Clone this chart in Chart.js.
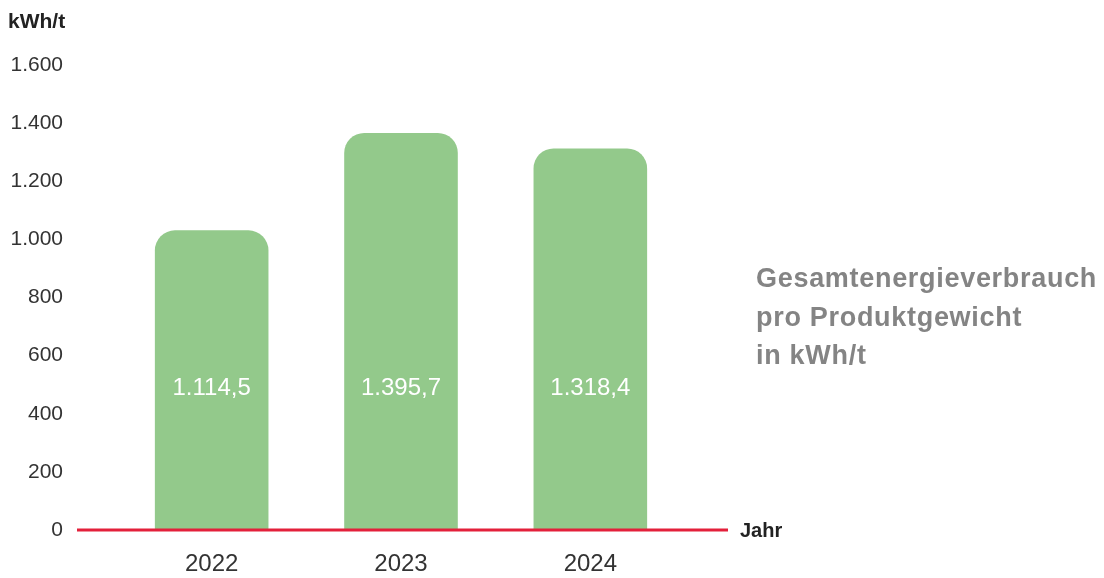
<!DOCTYPE html>
<html>
<head>
<meta charset="utf-8">
<script src="https://cdn.jsdelivr.net/npm/chart.js@4"></script>
<style>
  html, body { margin: 0; padding: 0; background: #fff; overflow: hidden; }
  #wrap { width: 1104px; height: 578px; position: relative; }
</style>
</head>
<body>
<div id="wrap"><canvas id="barChart"></canvas></div>
<script>
// Data
const years = ['2022', '2023', '2024'];
const barValues = [1031, 1366, 1313];          // bar heights as drawn
const valueLabels = ['1.114,5', '1.395,7', '1.318,4'];
const yTicks = [0, 200, 400, 600, 800, 1000, 1200, 1400, 1600];
const noteLines = ['Gesamtenergieverbrauch', 'pro Produktgewicht', 'in kWh/t'];

const FONT = '"Liberation Sans", Arial, sans-serif';

// extra drawing: zero line, axis titles, bar labels, side note
const extras = {
  id: 'extras',
  afterDatasetsDraw(chart) {
    const { ctx, scales } = chart;
    const y0 = scales.y.getPixelForValue(0);
    ctx.save();

    // red base line
    ctx.strokeStyle = '#e3203b';
    ctx.lineWidth = 3;
    ctx.beginPath();
    ctx.moveTo(77, y0);
    ctx.lineTo(728, y0);
    ctx.stroke();

    // axis titles
    ctx.fillStyle = '#222';
    ctx.font = 'bold 21px ' + FONT;
    ctx.textAlign = 'left';
    ctx.textBaseline = 'middle';
    ctx.fillText('kWh/t', 8, 22);
    ctx.font = 'bold 20px ' + FONT;
    ctx.fillText('Jahr', 740, y0 + 1);

    // value labels inside bars
    ctx.fillStyle = '#fff';
    ctx.font = '24px ' + FONT;
    ctx.textAlign = 'center';
    chart.getDatasetMeta(0).data.forEach((bar, i) => {
      ctx.fillText(valueLabels[i], bar.x, y0 - 142);
    });

    // side note
    ctx.fillStyle = '#848484';
    ctx.font = 'bold 27px ' + FONT;
    ctx.textAlign = 'left';
    ctx.textBaseline = 'alphabetic';
    ctx.letterSpacing = '0.7px';
    noteLines.forEach((line, i) => {
      ctx.fillText(line, 756, 287 + i * 38.5);
    });
    ctx.restore();
  }
};

const ctx = document.getElementById('barChart').getContext('2d');
new Chart(ctx, {
  type: 'bar',
  data: {
    labels: years,
    datasets: [{
      data: barValues,
      backgroundColor: '#93c98b',
      borderRadius: { topLeft: 20, topRight: 20 },
      borderSkipped: 'bottom',
      barPercentage: 0.6,
      categoryPercentage: 1
    }]
  },
  options: {
    responsive: true,
    maintainAspectRatio: false,
    animation: false,
    devicePixelRatio: 1,
    layout: { padding: { top: 65, right: 419, bottom: 0, left: 0 } },
    plugins: {
      legend: { display: false },
      tooltip: { enabled: false }
    },
    scales: {
      x: {
        afterFit(scale) { scale.height = 48; },
        grid: { display: false, drawTicks: false },
        border: { display: false },
        ticks: { color: '#333', font: { size: 24, family: FONT }, padding: 20 }
      },
      y: {
        min: 0,
        max: 1600,
        afterFit(scale) {
          scale.width = 117;
          // tick padding is horizontal only here; don't let it push the chart area
          scale.paddingTop = 0;
          scale.paddingBottom = 0;
        },
        afterBuildTicks(scale) { scale.ticks = yTicks.map(v => ({ value: v })); },
        grid: { display: false, drawTicks: false },
        border: { display: false },
        ticks: {
          color: '#333',
          padding: 54,
          font: { size: 21, family: FONT },
          callback: v => v.toLocaleString('de-DE')
        }
      }
    }
  },
  plugins: [extras]
});
</script>
</body>
</html>
